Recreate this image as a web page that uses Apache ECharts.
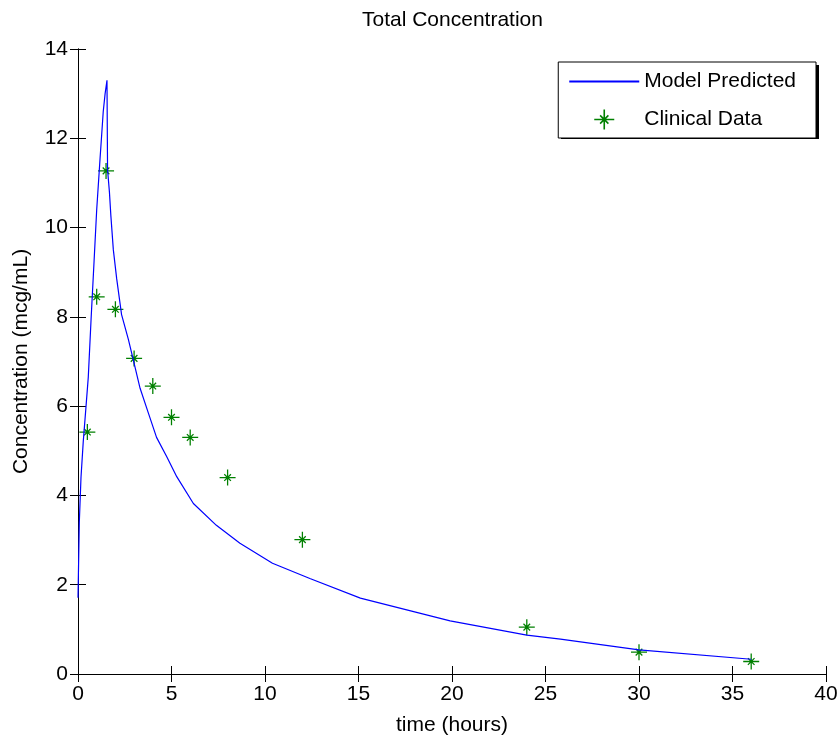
<!DOCTYPE html>
<html>
<head>
<meta charset="utf-8">
<title>Total Concentration</title>
<script src="https://cdn.jsdelivr.net/npm/echarts@6/dist/echarts.min.js"></script>
<style>
  html, body { margin: 0; padding: 0; background: #fff; }
  #main { width: 838px; height: 740px; }
</style>
</head>
<body>
<div id="main"></div>
<script>
// model curve
var tModel = [0, 0.07, 0.16, 0.28, 0.43, 0.55, 0.7, 0.86, 1.0, 1.18, 1.27, 1.35, 1.45, 1.55,
    1.58, 1.68, 1.76, 1.89, 2.07, 2.33, 2.69, 2.96, 3.32, 3.76, 4.2, 4.74, 5.28, 6.17, 7.4,
    8.66, 10.4, 12.4, 15.1, 19.9, 24, 25.8, 30, 36];
var cModel = [1.71, 3.4, 4.4, 5.2, 6.0, 6.65, 7.95, 9.25, 10.4, 11.55, 12.1, 12.6, 13.0, 13.3,
    11.3, 10.8, 10.25, 9.5, 8.85, 8.05, 7.5, 7.03, 6.4, 5.85, 5.3, 4.87, 4.42, 3.82, 3.33,
    2.93, 2.48, 2.14, 1.70, 1.19, 0.87, 0.78, 0.54, 0.33];

// clinical samples
var tData = [0.5, 1, 1.5, 2, 3, 4, 5, 6, 8, 12, 24, 30, 36];
var cData = [5.42, 8.45, 11.27, 8.17, 7.07, 6.45, 5.75, 5.3, 4.4, 3.01, 1.05, 0.49, 0.28];

var seriesNames = ['Model Predicted', 'Clinical Data'];

function pairs(xs, ys) {
    var res = [];
    for (var i = 0; i < xs.length; i++) {
        res.push([xs[i], ys[i]]);
    }
    return res;
}

// matlab '*' marker
var star = 'path://M9.2,0L10.8,0L10.8,20L9.2,20Z M0,9.2L20,9.2L20,10.8L0,10.8Z ' +
    'M6.4,5.3L14.7,13.6L13.6,14.7L5.3,6.4Z M13.6,5.3L14.7,6.4L6.4,14.7L5.3,13.6Z ' +
    'M8.2,8.2L11.8,8.2L11.8,11.8L8.2,11.8Z';
// thin line for the legend, the empty moves keep the box 70x20
var legendLine = 'path://M0,0L0,0Z M70,20L70,20Z M0,9L70,9L70,11L0,11Z';

var font = 'Liberation Sans';
var myChart = echarts.init(document.getElementById('main'));

var axisLine = { show: true, lineStyle: { color: '#000', width: 1 } };
var tick = { show: true, inside: true, length: 8, lineStyle: { color: '#000' } };

var option = {
    backgroundColor: '#fff',
    animation: false,
    title: {
        text: 'Total Concentration',
        left: 357,
        top: 5,
        textStyle: { fontFamily: font, fontSize: 21, fontWeight: 'normal', color: '#000' }
    },
    // dark edge under the legend box, like matlab draws it
    graphic: [{
        type: 'rect',
        z: 3,
        shape: { x: 561, y: 65, width: 258, height: 74 },
        style: { fill: '#000' }
    }],
    legend: {
        z: 5,
        orient: 'vertical',
        right: 22,
        top: 62,
        padding: [9, 20, 8, 11],
        itemWidth: 70,
        itemHeight: 20,
        itemGap: 17,
        backgroundColor: '#fff',
        borderColor: '#000',
        borderWidth: 1,
        borderRadius: 0,
        textStyle: { fontFamily: font, fontSize: 21, color: '#000' },
        data: [
            {
                name: seriesNames[0], icon: legendLine,
                itemStyle: { color: '#0000ff', borderWidth: 0 }
            },
            { name: seriesNames[1], icon: star, itemStyle: { color: '#008000', borderWidth: 0 } }
        ]
    },
    grid: { left: 78, right: 12, top: 49, bottom: 66, outerBoundsMode: 'none' },
    xAxis: [{
        type: 'value',
        min: 0, max: 40, interval: 5,
        name: 'time (hours)',
        nameLocation: 'middle',
        nameGap: 41,
        nameTextStyle: { fontFamily: font, fontSize: 21, color: '#000' },
        axisLine: axisLine,
        axisTick: tick,
        splitLine: { show: false },
        axisLabel: { fontFamily: font, fontSize: 21, color: '#000', margin: 10 }
    }, {
        type: 'value',
        position: 'top',
        min: 0, max: 40, interval: 5,
        axisLine: axisLine,
        axisTick: tick,
        splitLine: { show: false },
        axisLabel: { show: false }
    }],
    yAxis: [{
        type: 'value',
        min: 0, max: 14, interval: 2,
        name: 'Concentration (mcg/mL)',
        nameLocation: 'middle',
        nameGap: 46,
        nameTextStyle: { fontFamily: font, fontSize: 21, color: '#000' },
        axisLine: axisLine,
        axisTick: tick,
        splitLine: { show: false },
        axisLabel: { fontFamily: font, fontSize: 21, color: '#000', margin: 10 }
    }, {
        type: 'value',
        position: 'right',
        min: 0, max: 14, interval: 2,
        axisLine: axisLine,
        axisTick: tick,
        splitLine: { show: false },
        axisLabel: { show: false }
    }],
    series: [{
        name: seriesNames[0],
        type: 'line',
        symbol: 'none',
        data: pairs(tModel, cModel),
        lineStyle: { color: '#0000ff', width: 1.2 },
        itemStyle: { color: '#0000ff' }
    }, {
        name: seriesNames[1],
        type: 'scatter',
        symbol: star,
        symbolSize: 16,
        data: pairs(tData, cData),
        itemStyle: { color: '#008000', opacity: 1 }
    }]
};

myChart.setOption(option);
window.addEventListener('resize', function () {
    myChart.resize();
});
</script>
</body>
</html>
